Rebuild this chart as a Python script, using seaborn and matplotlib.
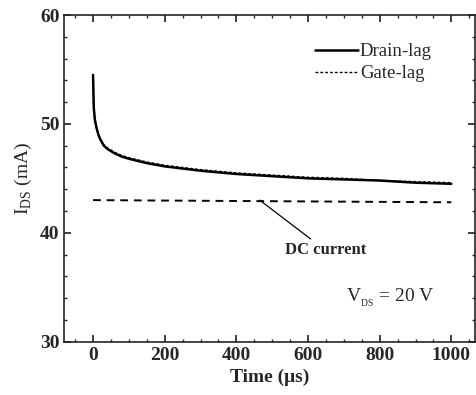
import numpy as np
import seaborn as sns
import pandas as pd
import matplotlib.pyplot as plt
from matplotlib.ticker import MultipleLocator

# values
time_us = [0, 2, 5, 10, 15, 20, 30, 40, 60, 80, 100, 150, 200, 250, 300, 400, 500, 600, 700, 800, 900, 1000]
drain_lag = [54.5, 51.5, 50.4, 49.6, 49.0, 48.6, 48.0, 47.7, 47.3, 47.0, 46.8, 46.4, 46.1, 45.9, 45.7, 45.4, 45.2, 45.0, 44.9, 44.8, 44.6, 44.5]
gate_lag = [54.3, 51.4, 50.3, 49.5, 49.0, 48.6, 48.1, 47.8, 47.4, 47.1, 46.9, 46.5, 46.2, 46.0, 45.8, 45.5, 45.3, 45.1, 45.0, 44.8, 44.7, 44.6]
dc_time = [0, 1000]
dc_current = [43.0, 42.8]

sns.set_theme(style="ticks")
plt.rcParams['font.family'] = ['Liberation Serif', 'DejaVu Serif']
plt.rcParams['mathtext.fontset'] = 'custom'
plt.rcParams['mathtext.rm'] = 'Liberation Serif'

df = pd.DataFrame({"Time": time_us, "Drain-lag": drain_lag, "Gate-lag": gate_lag})

fig, ax = plt.subplots(figsize=(4.77, 3.95), dpi=100)
sns.lineplot(data=df, x="Time", y="Drain-lag", ax=ax, color="black", lw=1.8, label="Drain-lag")
sns.lineplot(data=df, x="Time", y="Gate-lag", ax=ax, color="black", lw=1.0, ls=(0, (2, 1.5)), label="Gate-lag")
sns.lineplot(x=dc_time, y=dc_current, ax=ax, color="black", lw=1.4, ls=(0, (4, 3)))

ax.set_xlim(-80, 1065)
ax.set_ylim(30, 60)
ax.xaxis.set_major_locator(MultipleLocator(200))
ax.xaxis.set_minor_locator(MultipleLocator(50))
ax.yaxis.set_major_locator(MultipleLocator(10))
ax.yaxis.set_minor_locator(MultipleLocator(2))
ax.tick_params(which="both", direction="in", top=True, right=True, labelsize=14)
ax.tick_params(which="major", length=5)
ax.tick_params(which="minor", length=2.5)
for lab in ax.get_xticklabels() + ax.get_yticklabels():
    lab.set_fontweight("bold")
for s in ax.spines.values():
    s.set_linewidth(1.2)

ax.set_xlabel("Time (μs)", fontsize=14, fontweight="bold")
ax.set_ylabel(r"I$_{\mathrm{DS}}$ (mA)", fontsize=14)

ax.annotate("DC current", xy=(465, 43.0), xytext=(535, 38.4), fontsize=12, fontweight="bold",
            arrowprops=dict(arrowstyle="-", color="black", lw=0.9, shrinkA=0, shrinkB=0),
            ha="left", va="center")
ax.text(830, 34.0, r"V$_{_{\mathrm{DS}}}$ = 20 V", fontsize=14, ha="center", va="center")

leg = ax.legend(loc="upper right", frameon=False, fontsize=13.5, handlelength=2.3,
                handletextpad=0.1, bbox_to_anchor=(0.937, 0.965), labelspacing=0.25)

fig.subplots_adjust(left=0.135, right=0.995, top=0.962, bottom=0.135)
fig.savefig("out.png", dpi=100)
